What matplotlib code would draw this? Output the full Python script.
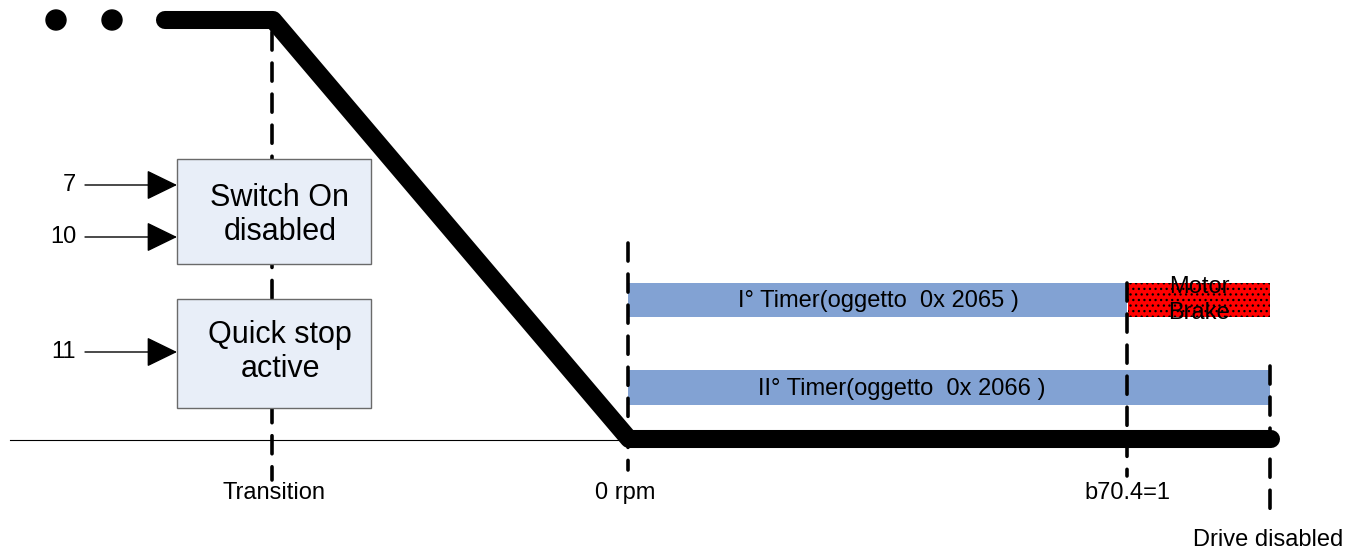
import numpy as np
import matplotlib.pyplot as plt
from matplotlib.patches import Rectangle, Circle

plt.rcParams['font.family'] = ['Liberation Sans', 'DejaVu Sans']
plt.rcParams['hatch.linewidth'] = 0.9

# ---- data (diagram coordinates, pixel-like units) ----
speed_x = [165, 273, 629, 1271]
speed_y = [20, 20, 439, 439]
dots_x = [56, 112]

event_x = [272, 628, 1127, 1270]
event_labels = ['Transition', '0 rpm', 'b70.4=1', 'Drive disabled']
event_label_x = [274, 625, 1127, 1268]
event_label_y = [493, 493, 493, 540]
dash_y0 = [32, 243, 283, 366]
dash_y1 = [480, 470, 476, 520]

state_names = ['Switch On\ndisabled', 'Quick stop\nactive']
state_top = [159, 299]
state_bottom = [264, 408]
state_text_y = [215, 352]

input_labels = ['7', '10', '11']
input_y = [185, 237, 352]

timer_names = ['I° Timer(oggetto  0x 2065 )', 'II° Timer(oggetto  0x 2066 )']
timer_start = [628, 628]
timer_end = [1127, 1270]
timer_top = [283, 370]
timer_bottom = [317, 405]
timer_text_x = [878, 902]

brake_start, brake_end = 1128, 1270

fig = plt.figure(figsize=(13.6, 5.51), dpi=100)
ax = fig.add_axes([0, 0, 1, 1])
ax.set_xlim(0, 1360)
ax.set_ylim(551, 0)
ax.axis('off')

# baseline
ax.plot([10, 628], [440, 440], color='black', lw=0.8, zorder=1)

# dashed event lines
for x, y0, y1 in zip(event_x, dash_y0, dash_y1):
    ax.plot([x, x], [y0, y1], color='black', lw=2.6, ls=(0, (5, 3.6)),
            dash_capstyle='round', zorder=2)

# timers
for name, x0, x1, t, b, tx in zip(timer_names, timer_start, timer_end, timer_top, timer_bottom, timer_text_x):
    ax.add_patch(Rectangle((x0, t), x1 - x0, b - t, facecolor='#82A2D3', edgecolor='none', zorder=1))
    ax.text(tx, (t + b) / 2 + 1, name, ha='center', va='center', fontsize=17, zorder=4)

# motor brake
ax.add_patch(Rectangle((brake_start, timer_top[0]), brake_end - brake_start, timer_bottom[0] - timer_top[0],
                       facecolor='#FF0000', edgecolor='black', lw=0, hatch='...', zorder=1))
ax.text((brake_start + brake_end) / 2, 300, 'Motor\nBrake', ha='center', va='center',
        fontsize=17, linespacing=1.25, zorder=4)

# speed profile
ax.plot(speed_x, speed_y, color='black', lw=13, solid_capstyle='round', solid_joinstyle='round', zorder=3)
for x in dots_x:
    ax.add_patch(Circle((x, 20), 10, color='black', zorder=3))

# state boxes
for name, t, b, ty in zip(state_names, state_top, state_bottom, state_text_y):
    ax.add_patch(Rectangle((177, t), 194, b - t, facecolor='#E8EEF8', edgecolor='#6A6A6A', lw=1.0, zorder=4))
    ax.text(280, ty, name, ha='center', va='center', fontsize=22, linespacing=1.2, zorder=5)

# input arrows
for lab, y in zip(input_labels, input_y):
    ax.annotate('', xy=(177, y), xytext=(85, y),
                arrowprops=dict(arrowstyle='-|>,head_length=1.95,head_width=0.95', color='black', lw=1.0,
                                shrinkA=0, shrinkB=0),
                zorder=5)
    ax.text(76, y, lab, ha='right', va='center', fontsize=17)

# event labels
for x, lab, y in zip(event_label_x, event_labels, event_label_y):
    ax.text(x, y, lab, ha='center', va='center', fontsize=17)

fig.savefig('out.png', dpi=100)
